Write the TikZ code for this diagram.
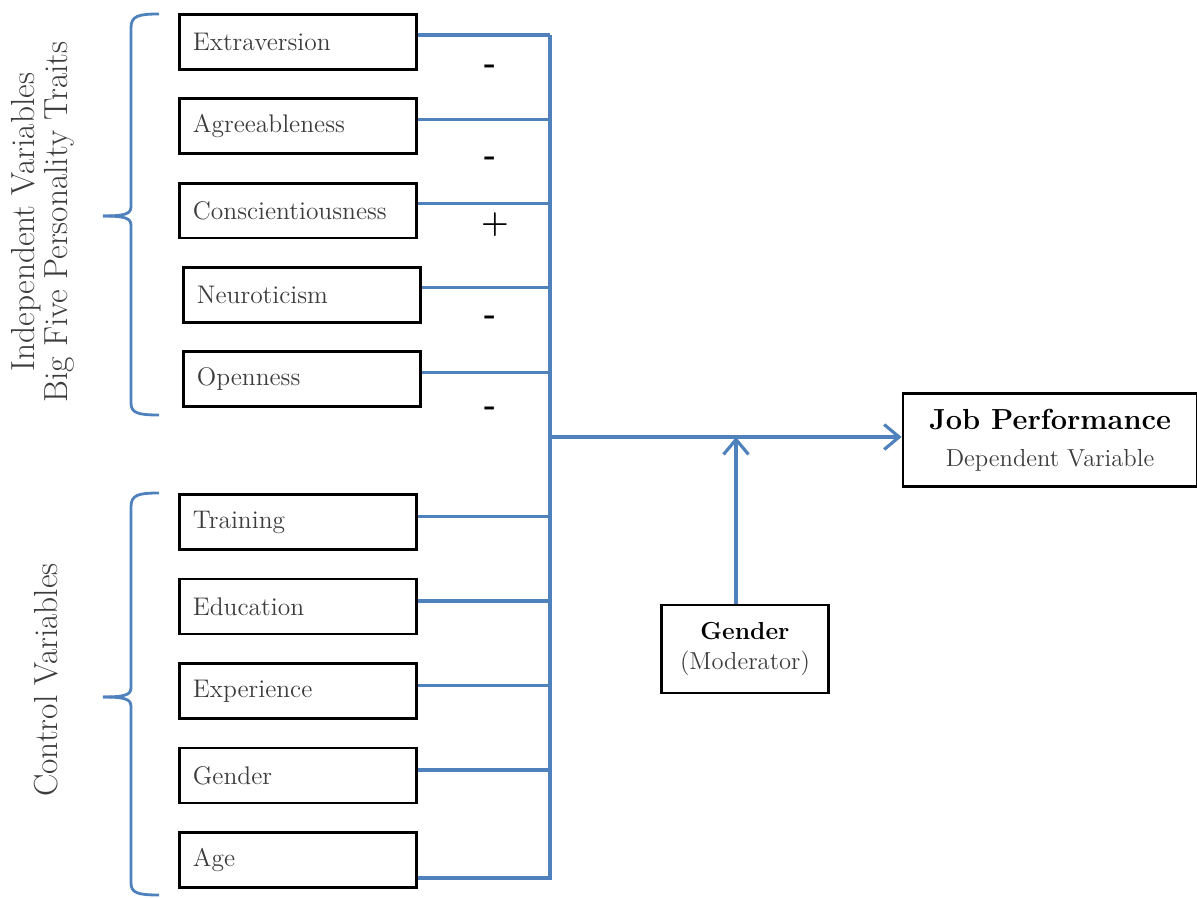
\documentclass[tikz,border=0pt]{standalone}
\usepackage{tikz}
\usetikzlibrary{arrows.meta}
\definecolor{linkblue}{RGB}{79,129,189}
\definecolor{txtgray}{RGB}{60,60,60}
\tikzset{
  varbox/.style={draw,line width=1.6pt,text width=4.2cm,inner xsep=0.27cm,minimum height=1.1cm,
    align=left,anchor=west,font=\fontsize{14.5}{16}\selectfont,text=txtgray},
  outbox/.style={draw,line width=1.6pt,align=center,text=black},
  bus/.style={draw=linkblue,line width=1.8pt},
  sidebrace/.style={draw=linkblue,line width=1.6pt},
  sidelabel/.style={rotate=90,align=center,font=\fontsize{19}{18.5}\selectfont,text=txtgray},
  sign/.style={font=\fontsize{18}{20}\selectfont\bfseries},
}
\begin{document}
\begin{tikzpicture}[x=0.02cm,y=-0.02cm]
\useasboundingbox (0,0) rectangle (1197,898);
\coordinate (bus) at (550,437);
\foreach \name/\xs [count=\i] in {Extraversion/178,Agreeableness/178,Conscientiousness/178,Neuroticism/182,Openness/182}{
  \node[varbox] (iv\i) at (\xs,42+84.3*\i-84.3) {\name};
  \coordinate (s\i) at ([yshift=0.14cm]iv\i.east);
  \draw[bus] (s\i) -- (s\i -| bus);
}
\foreach \name [count=\i] in {Training,Education,Experience,Gender,Age}
  \node[varbox] (cv\i) at (178,522+84.5*\i-84.5) {\name};
\foreach \i in {1,...,4}{
  \coordinate (t\i) at ([yshift=0.11cm]cv\i.east);
  \draw[bus] (t\i) -- (t\i -| bus);
}
\coordinate (t5) at ([yshift=-0.36cm]cv5.east);
\draw[bus] (t5) -- (t5 -| bus) -- (s1 -| bus);
% signs
\foreach \s/\x/\y [count=\i] in {-/490/69,-/490/161,+/495/225,-/490/320,-/490/411}
  \node[sign] (sign\i) at (\x,\y) {\s};
% outcome and moderator
\node[outbox,minimum width=5.88cm,minimum height=1.86cm,font=\fontsize{14}{21}\selectfont] (jp) at (1050,440)
  {{\fontsize{16.5}{21}\selectfont\bfseries Job Performance}\\{\color{txtgray}Dependent Variable}};
\draw[bus,-{Straight Barb[length=0.3cm,width=0.5cm]}] (bus) -- (bus -| jp.west);
\node[outbox,minimum width=3.34cm,minimum height=1.76cm,font=\fontsize{14}{17.5}\selectfont] (mod) at (745,649)
  {\textbf{Gender}\\{\color{txtgray}(Moderator)}};
\coordinate (m) at ([xshift=-0.18cm]mod.north);
\draw[bus,-{Straight Barb[length=0.3cm,width=0.5cm]}] (m) -- (m |- bus);
% braces
\draw[sidebrace] (159,14) .. controls (138,14) and (131,16) .. (131,28) -- (131,206) .. controls (131,213) and (128,216) .. (103,216);
\draw[sidebrace] (103,216) .. controls (128,216) and (131,219) .. (131,226) -- (131,403) .. controls (131,413) and (138,415) .. (159,415);
\draw[sidebrace] (159,493) .. controls (138,493) and (131,495) .. (131,507) -- (131,687) .. controls (131,694) and (128,697) .. (103,697);
\draw[sidebrace] (103,697) .. controls (128,697) and (131,700) .. (131,707) -- (131,883) .. controls (131,893) and (138,895) .. (159,895);
\node[sidelabel] (ivlab) at (43,222) {Independent Variables\\Big Five Personality Traits};
\node[sidelabel] (cvlab) at (46,680) {Control Variables};
\end{tikzpicture}
\end{document}
